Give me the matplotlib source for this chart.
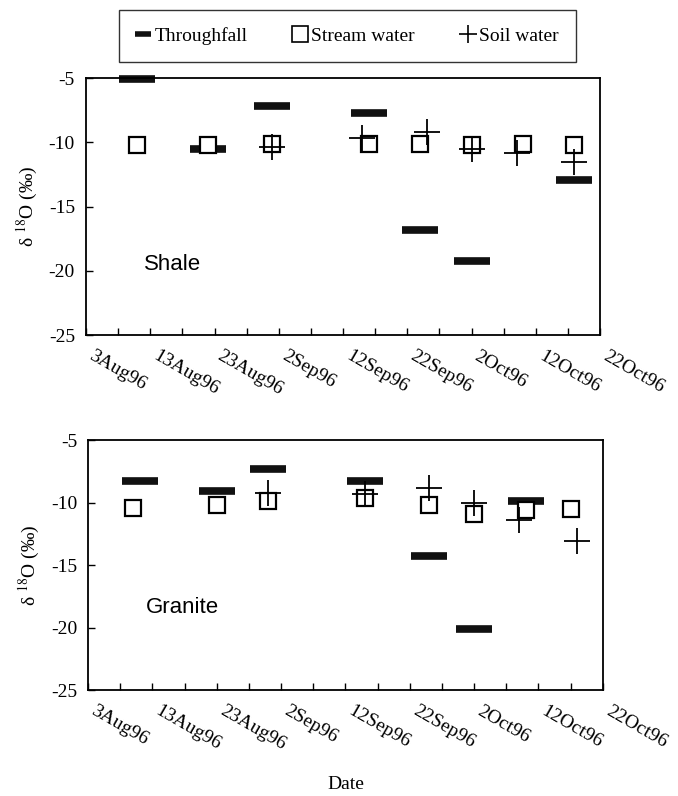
import pandas as pd
import matplotlib.pyplot as plt
from matplotlib.lines import Line2D

plt.rcParams['font.family'] = ['Liberation Serif', 'DejaVu Serif']
plt.rcParams['mathtext.fontset'] = 'stix'
plt.rcParams['axes.unicode_minus'] = False

# Shale: fechas y valores
shale_fechas_tf = ["1996-08-11", "1996-08-22", "1996-09-01", "1996-09-16", "1996-09-24", "1996-10-02", "1996-10-18"]
shale_tf = [-5.1, -10.5, -7.2, -7.7, -16.8, -19.2, -12.9]
shale_fechas_sw = ["1996-08-11", "1996-08-22", "1996-09-01", "1996-09-16", "1996-09-24", "1996-10-02", "1996-10-10", "1996-10-18"]
shale_sw = [-10.2, -10.2, -10.1, -10.1, -10.1, -10.2, -10.1, -10.2]
shale_fechas_soil = ["1996-09-01", "1996-09-15", "1996-09-25", "1996-10-02", "1996-10-09", "1996-10-18"]
shale_soil = [-10.4, -9.7, -9.2, -10.5, -10.8, -11.5]

# Granite
granite_fechas_tf = ["1996-08-11", "1996-08-23", "1996-08-31", "1996-09-15", "1996-09-25", "1996-10-02", "1996-10-10"]
granite_tf = [-8.3, -9.1, -7.3, -8.3, -14.3, -20.1, -9.9]
granite_fechas_sw = ["1996-08-10", "1996-08-23", "1996-08-31", "1996-09-15", "1996-09-25", "1996-10-02", "1996-10-10", "1996-10-17"]
granite_sw = [-10.4, -10.2, -9.9, -9.6, -10.2, -10.9, -10.6, -10.5]
granite_fechas_soil = ["1996-08-31", "1996-09-15", "1996-09-25", "1996-10-02", "1996-10-09", "1996-10-18"]
granite_soil = [-9.2, -9.3, -8.8, -10.0, -11.4, -13.1]

etiquetas_fecha = ["3Aug96", "13Aug96", "23Aug96", "2Sep96", "12Sep96",
                   "22Sep96", "2Oct96", "12Oct96", "22Oct96"]

ticks_mayores = pd.date_range("1996-08-03", "1996-10-22", freq="10D")
ticks_menores = pd.date_range("1996-08-03", "1996-10-22", freq="5D")

fig = plt.figure(figsize=(6.78, 7.96), dpi=100)
ax1 = fig.add_axes([0.127, 0.579, 0.758, 0.323])
ax2 = fig.add_axes([0.130, 0.133, 0.759, 0.314])


def dibujar(ax, f_tf, tf, f_sw, sw, f_soil, soil, nombre, y_nombre):
    ax.plot(pd.to_datetime(f_tf), tf, ls="none", marker="_", ms=26.5, mew=5.5,
            color="#111111", zorder=2, clip_on=False)
    ax.plot(pd.to_datetime(f_sw), sw, ls="none", marker="s", ms=11.5, mew=1.6,
            mfc="white", mec="black", zorder=3)
    ax.plot(pd.to_datetime(f_soil), soil, ls="none", marker="+", ms=19, mew=1.3,
            color="black", zorder=4)
    ax.set_xlim(ticks_mayores[0], ticks_mayores[-1])
    ax.set_ylim(-25, -5)
    ax.set_yticks([-25, -20, -15, -10, -5])
    ax.set_xticks(ticks_mayores)
    ax.set_xticks(ticks_menores, minor=True)
    ax.set_xticklabels(etiquetas_fecha, rotation=-30, ha="left", va="top")
    ax.tick_params(axis="both", which="both", direction="in", length=5, width=1,
                   labelsize=14)
    ax.tick_params(axis="x", pad=9)
    ax.tick_params(axis="y", pad=8)
    for s in ax.spines.values():
        s.set_linewidth(1.3)
    ax.set_ylabel("δ $^{18}$O (‰)", fontsize=14, labelpad=6)
    ax.text(pd.Timestamp(f_tf[0]) + pd.Timedelta(days=1), y_nombre, nombre,
            fontsize=16, family="Liberation Sans", va="center")


dibujar(ax1, shale_fechas_tf, shale_tf, shale_fechas_sw, shale_sw,
        shale_fechas_soil, shale_soil, "Shale", -19.5)
dibujar(ax2, granite_fechas_tf, granite_tf, granite_fechas_sw, granite_sw,
        granite_fechas_soil, granite_soil, "Granite", -18.4)

ax2.set_xlabel("Date", fontsize=14, labelpad=16)

# Leyenda
handles = [
    Line2D([], [], ls="none", marker="_", ms=11, mew=4, color="#111111"),
    Line2D([], [], ls="none", marker="s", ms=11, mew=1.2, mfc="white", mec="black"),
    Line2D([], [], ls="none", marker="+", ms=13, mew=1.2, color="black"),
]
leg = fig.legend(handles, ["Throughfall", "Stream water", "Soil water"],
                 loc="upper center", bbox_to_anchor=(0.513, 0.988), ncol=3,
                 fontsize=14, frameon=True, fancybox=False, edgecolor="black",
                 handlelength=0.6, handletextpad=0.3, columnspacing=2.4,
                 borderpad=0.9, borderaxespad=0)
leg.get_frame().set_linewidth(1.0)

plt.savefig("out.png", dpi=100)
